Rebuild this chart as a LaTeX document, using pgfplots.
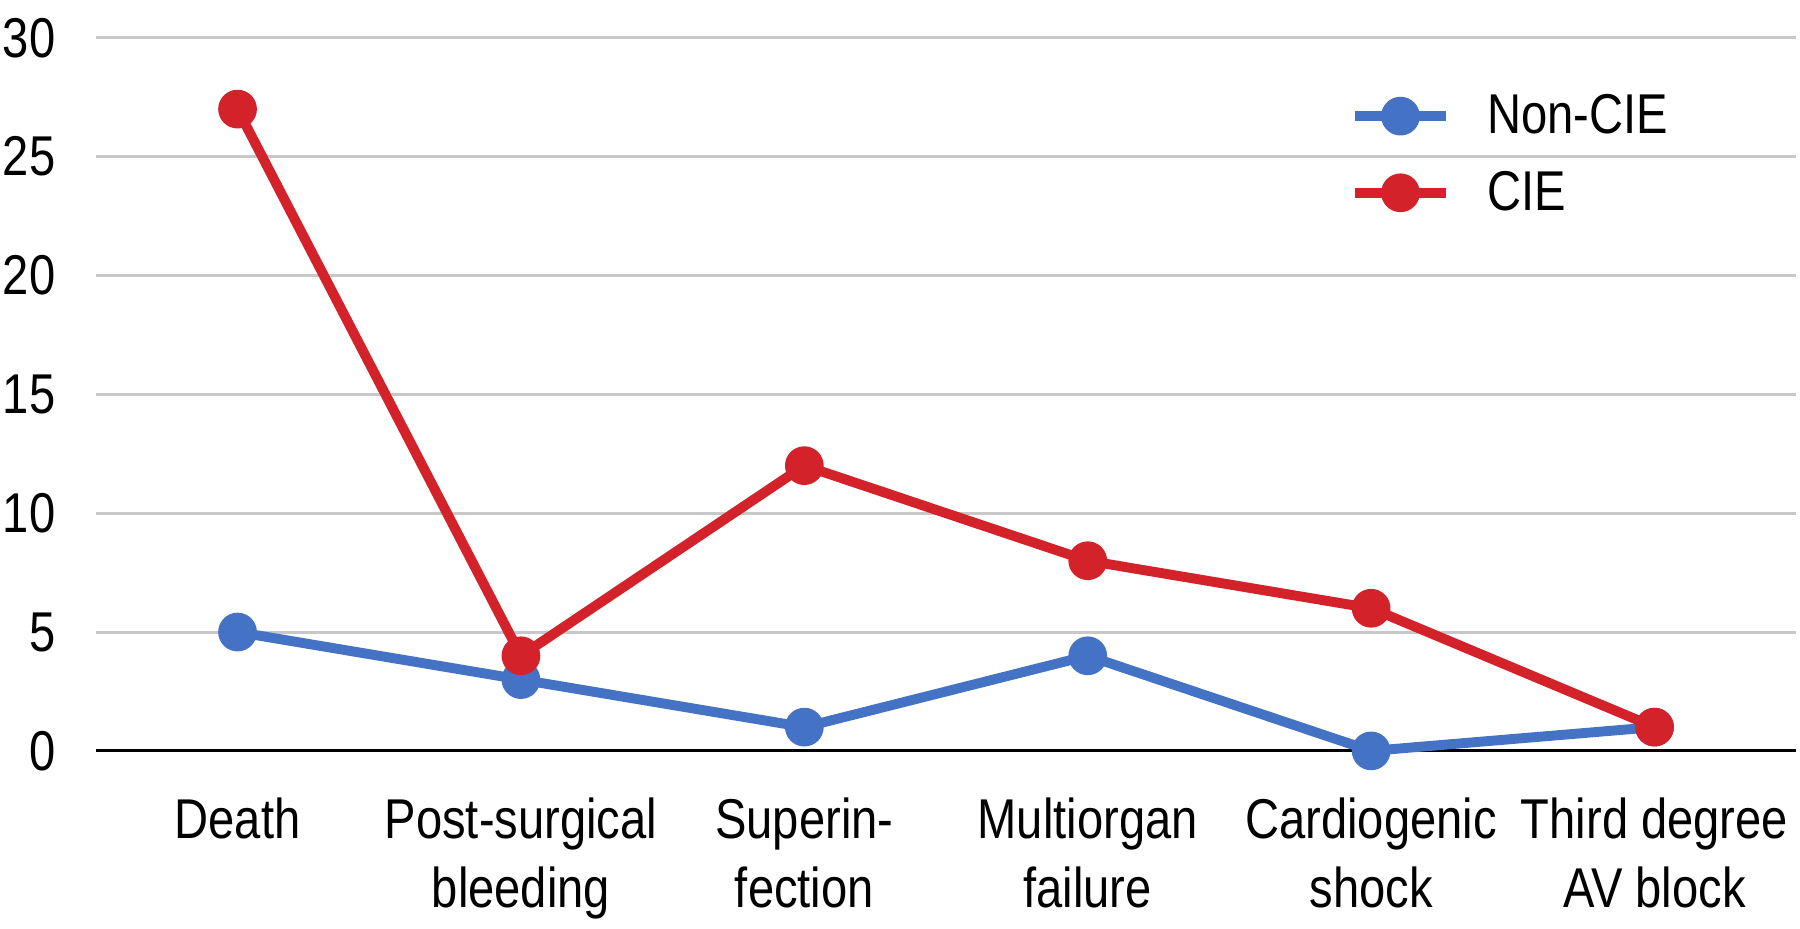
\documentclass[border=0pt]{standalone}
\usepackage{fontspec}
\setmainfont[FakeStretch=0.84]{Liberation Sans}
\usepackage{pgfplots}
\pgfplotsset{compat=1.18}
\definecolor{cblue}{RGB}{68,114,196}
\definecolor{cred}{RGB}{211,34,42}
\definecolor{cgrid}{RGB}{200,200,200}
\begin{document}
\begin{tikzpicture}
\begin{axis}[
  scale only axis, width=566.8pt, height=237.7pt,
  xmin=-0.5, xmax=5.5, ymin=0, ymax=30,
  ytick={0,5,...,30},
  xtick={0,...,5},
  xticklabels={Death, Post-surgical\\bleeding, Superin-\\fection, Multiorgan\\failure, Cardiogenic\\shock, Third degree\\AV block},
  ymajorgrids, grid style={cgrid, line width=1pt},
  axis line style={draw=none},
  major tick length=0pt,
  tick label style={font=\fontsize{18.7}{23}\selectfont},
  /pgf/number format/assume math mode=true,
  xticklabel style={align=center, yshift=-12pt},
  yticklabel style={xshift=-10pt},
  extra y ticks={0}, extra y tick labels={},
  extra y tick style={grid style={black, line width=1pt}},
  clip=false,
  legend style={draw=none, fill=none, at={(0.737,0.93)}, anchor=north west,
    inner sep=0pt, font=\fontsize{18.7}{23}\selectfont, row sep=7pt,
    nodes={inner sep=2pt}, column sep=10pt},
  legend cell align=left,
  legend image code/.code={\draw[#1, mark repeat=2, mark phase=2] plot coordinates {(0pt,0pt) (15.3pt,0pt) (30.6pt,0pt)};},
]
\addplot[cblue, line width=3.3pt, line join=round, mark=*, mark size=4.8pt] coordinates {(0,5) (1,3) (2,1) (3,4) (4,0) (5,1)};
\addlegendentry{Non-CIE}
\addplot[cred, line width=3.3pt, line join=round, mark=*, mark size=4.8pt] coordinates {(0,27) (1,4) (2,12) (3,8) (4,6) (5,1)};
\addlegendentry{CIE}
\end{axis}
\pgfresetboundingbox
\useasboundingbox (-31.95pt,-59.1pt) rectangle (568.05pt,250.3pt);
\end{tikzpicture}
\end{document}
